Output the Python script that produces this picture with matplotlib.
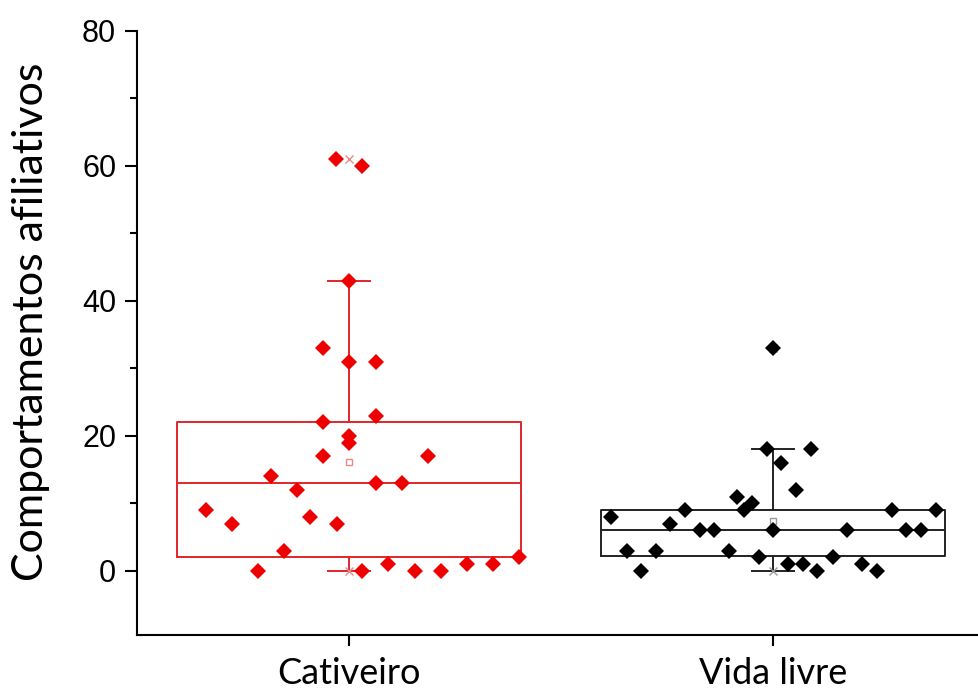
import matplotlib
matplotlib.use("Agg")
import matplotlib.pyplot as plt
import numpy as np

categories = ["Cativeiro", "Vida livre"]

cativeiro_values = [33, 31, 31, 22, 23, 20, 19, 17, 17, 14, 13, 13, 12, 9, 7, 8, 7, 3,
                    0, 0, 1, 0, 0, 1, 1, 2, 61, 60, 43]
cativeiro_jitter = [-0.061, 0.0, 0.064, -0.061, 0.064, 0.0, 0.0, -0.061, 0.186, -0.184,
                    0.064, 0.125, -0.123, -0.337, -0.276, -0.092, -0.028, -0.153,
                    -0.215, 0.031, 0.092, 0.156, 0.217, 0.278, 0.340, 0.401,
                    -0.031, 0.031, 0.0]

vida_values = [33, 18, 18, 16, 12, 11, 10, 9, 9, 9, 9, 8, 7, 6, 6, 6, 6, 6, 6,
               3, 3, 3, 2, 2, 1, 1, 1, 0, 0, 0]
vida_jitter = [0.0, -0.014, 0.090, 0.019, 0.054, -0.085, -0.050, -0.068, -0.208, 0.281,
               0.384, -0.382, -0.243, -0.172, -0.139, 0.0, 0.175, 0.314, 0.349,
               -0.344, -0.276, -0.104, -0.033, 0.142, 0.035, 0.071, 0.210,
               -0.311, 0.104, 0.245]

colors = ["#ee0000", "#000000"]
box_colors = ["#e0262b", "#222222"]
mean_colors = ["#e88a8a", "#999999"]

yticks = [0, 20, 40, 60, 80]
yminor = [10, 30, 50, 70]

fig = plt.figure(figsize=(9.79, 6.97), dpi=100)
ax = fig.add_axes([0.140, 0.089, 0.866, 0.8666])

data = [cativeiro_values, vida_values]
jitters = [cativeiro_jitter, vida_jitter]
positions = [1, 2]

for i, (vals, jit) in enumerate(zip(data, jitters)):
    pos = positions[i]
    c = box_colors[i]
    ax.boxplot([vals], positions=[pos], widths=0.81, whis=1.5, showfliers=False,
               showmeans=True, meanline=False, patch_artist=False,
               boxprops=dict(color=c, linewidth=1.4),
               medianprops=dict(color=c, linewidth=1.4),
               whiskerprops=dict(color=c, linewidth=1.4),
               capprops=dict(color=c, linewidth=1.4),
               capwidths=0.1,
               meanprops=dict(marker="s", markerfacecolor="none",
                              markeredgecolor=mean_colors[i], markersize=5,
                              markeredgewidth=1.0),
               zorder=2)
    # min / max markers
    ax.plot([pos, pos], [min(vals), max(vals)], linestyle="none", marker="x",
            color=mean_colors[i], markersize=6, markeredgewidth=1.0, zorder=2)
    xs = pos + np.array(jit)
    ax.plot(xs, vals, linestyle="none", marker="D", color=colors[i],
            markersize=8.6, markeredgewidth=0, zorder=3)

ax.set_xlim(0.5, 2.5)
ax.set_ylim(-9.5, 80)
ax.set_xticks(positions)
ax.set_xticklabels(categories, fontfamily="Lato", fontsize=26)
ax.set_yticks(yticks)
ax.set_yticks(yminor, minor=True)
ax.set_yticklabels([str(t) for t in yticks], fontfamily="Liberation Sans", fontsize=22)
ax.tick_params(axis="y", which="major", length=9, width=1.5, pad=6)
ax.tick_params(axis="y", which="minor", length=5, width=1.5)
ax.tick_params(axis="x", which="major", length=8, width=1.5, pad=8)

for s in ["top", "right"]:
    ax.spines[s].set_visible(False)
for s in ["left", "bottom"]:
    ax.spines[s].set_linewidth(1.5)
ax.spines["left"].set_bounds(-9.5, 80)

ax.set_ylabel("Comportamentos afiliativos", fontfamily="Lato", fontsize=31)
ax.yaxis.set_label_coords(-0.103, 0.518)

fig.savefig("out.png", dpi=100)
